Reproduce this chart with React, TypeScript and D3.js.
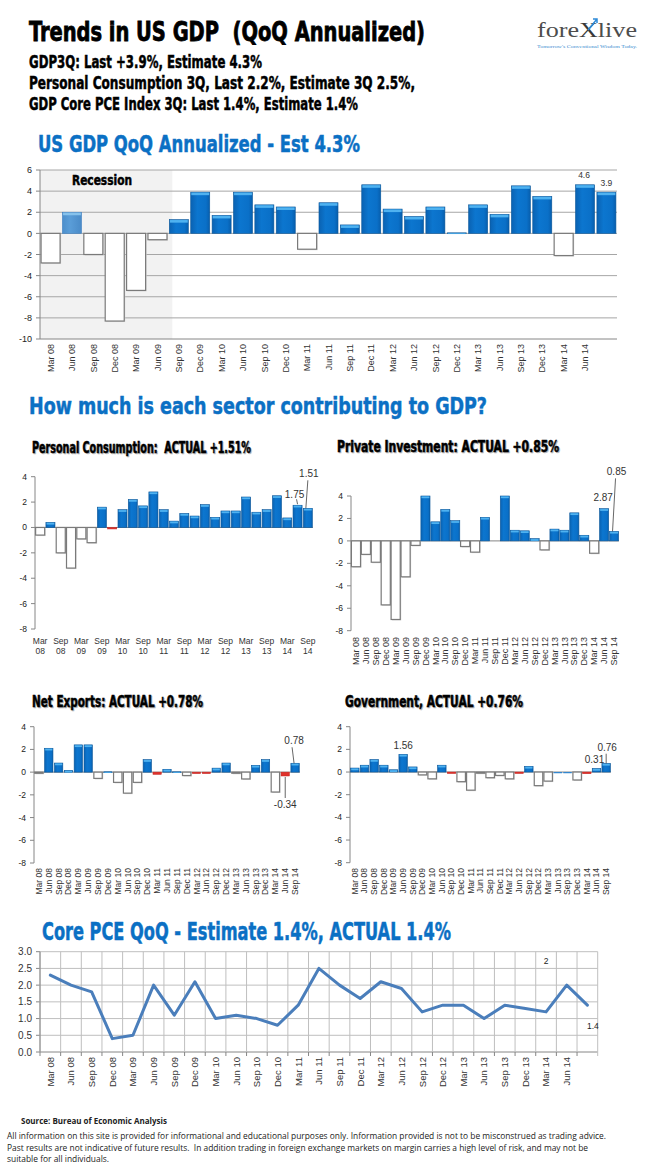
import React from "react";
import * as d3 from "d3";

// ---------------- DATA ----------------
const quarters = [
  "Mar 08", "Jun 08", "Sep 08", "Dec 08", "Mar 09", "Jun 09", "Sep 09", "Dec 09",
  "Mar 10", "Jun 10", "Sep 10", "Dec 10", "Mar 11", "Jun 11", "Sep 11", "Dec 11",
  "Mar 12", "Jun 12", "Sep 12", "Dec 12", "Mar 13", "Jun 13", "Sep 13", "Dec 13",
  "Mar 14", "Jun 14", "Sep 14",
];

const gdpValues = [
  -2.8, 2.0, -2.0, -8.3, -5.4, -0.6, 1.3, 3.9, 1.7, 3.9, 2.7, 2.5, -1.5, 2.9,
  0.8, 4.6, 2.3, 1.6, 2.5, 0.05, 2.7, 1.8, 4.5, 3.5, -2.1, 4.6, 3.9,
];
const gdpRecession = ["Mar 08", "Jun 08", "Sep 08", "Dec 08", "Mar 09", "Jun 09"];
const gdpTicks = [-10, -8, -6, -4, -2, 0, 2, 4, 6];
const gdpTickLabels = quarters.slice(0, 26);

const sectorTicks = [-8, -6, -4, -2, 0, 2, 4];

const pcValues = [
  -0.6, 0.4, -2.0, -3.2, -0.9, -1.2, 1.6, -0.1, 1.4, 2.2, 1.7, 2.8, 1.4, 0.5,
  1.1, 0.9, 1.8, 0.8, 1.3, 1.3, 2.4, 1.2, 1.4, 2.5, 0.75, 1.75, 1.51,
];
const pcReds = ["Dec 09"];
const pcTickLabels = [
  "Mar 08", "Sep 08", "Mar 09", "Sep 09", "Mar 10", "Sep 10", "Mar 11",
  "Sep 11", "Mar 12", "Sep 12", "Mar 13", "Sep 13", "Mar 14", "Sep 14",
];

const piValues = [
  -2.3, -1.2, -1.9, -5.7, -7.0, -3.2, -0.4, 4.0, 1.7, 2.8, 1.8, -0.5, -1.0, 2.1,
  0, 4.0, 0.95, 0.9, 0.2, -0.8, 1.05, 0.95, 2.5, 0.5, -1.1, 2.87, 0.85,
];

const neValues = [
  -0.1, 2.1, 0.8, 0.15, 2.4, 2.4, -0.55, 0.03, -0.9, -1.85, -0.9, 1.1, -0.2, 0.25,
  0.03, -0.3, -0.05, -0.05, 0.35, 0.8, -0.1, -0.6, 0.6, 1.1, -1.75, -0.34, 0.78,
];
const neReds = ["Mar 11", "Mar 12", "Jun 12", "Jun 14"];

const govValues = [
  0.35, 0.6, 1.1, 0.6, 0.2, 1.56, 0.45, -0.25, -0.6, 0.6, -0.05, -0.85, -1.6, -0.1,
  -0.5, -0.3, -0.6, -0.05, 0.5, -1.2, -0.8, -0.05, -0.05, -0.7, -0.15, 0.31, 0.76,
];
const govReds = ["Sep 10", "Jun 12", "Mar 14"];
const govBlueNeg = ["Jun 13", "Sep 13"];

const pceValues = [
  2.3, 2.0, 1.8, 0.4, 0.5, 2.0, 1.1, 2.1, 1.0, 1.1, 1.0, 0.8, 1.4, 2.5, 2.0, 1.6,
  2.1, 1.9, 1.2, 1.4, 1.4, 1.0, 1.4, 1.3, 1.2, 2.0, 1.4,
];
const pceTicks = [0, 0.5, 1.0, 1.5, 2.0, 2.5, 3.0];
const pceTickLabels = quarters.slice(0, 26);

const headerTitle = "Trends in US GDP  (QoQ Annualized)";
const headerLines = [
  "GDP3Q: Last +3.9%, Estimate 4.3%",
  "Personal Consumption 3Q, Last 2.2%, Estimate 3Q 2.5%,",
  "GDP Core PCE Index 3Q: Last 1.4%, Estimate 1.4%",
];
const disclaimer = [
  "All information on this site is provided for informational and educational purposes only. Information provided is not to be misconstrued as trading advice.",
  "Past results are not indicative of future results.  In addition trading in foreign exchange markets on margin carries a high level of risk, and may not be",
  "suitable for all individuals.",
];

// ---------------- STYLE ----------------
const HEAVY = "'DejaVu Sans Condensed', 'DejaVu Sans', 'Liberation Sans', sans-serif";
const ARIAL = "'Liberation Sans', Arial, sans-serif";
const BLUE_TITLE = "#0B70C4";
const AXIS = "#868686";

type Ann = {
  cat: string;
  text: string;
  dx: number;
  dy: number;
  at?: number;
  leader?: [number, number, number, number];
};

function Heavy(props: {
  x: number; y: number; w: number; size: number; text: string; fill?: string; shadow?: boolean; sw?: number;
}) {
  const { x, y, w, size, text, fill = "#000", shadow, sw = 0.5 } = props;
  const common = {
    fontFamily: HEAVY,
    fontWeight: 700 as any,
    fontSize: size,
    textLength: w,
    lengthAdjust: "spacingAndGlyphs",
    style: { whiteSpace: "pre" as any },
  };
  return (
    <g>
      {shadow && (
        <text x={x + 1} y={y + 1} {...common} fill="#9a9a9a" stroke="#9a9a9a" strokeWidth={sw} opacity={0.7}>
          {text}
        </text>
      )}
      <text x={x} y={y} {...common} fill={fill} stroke={fill} strokeWidth={sw}>
        {text}
      </text>
    </g>
  );
}

function Bar(props: { x: number; w: number; y0: number; y1: number; kind: string; cap: number }) {
  const { x, w, y0, y1, kind, cap } = props;
  const top = Math.min(y0, y1);
  const h = Math.max(Math.abs(y1 - y0), 0.8);
  if (kind === "neg") {
    return (
      <g>
        <rect x={x + 1} y={top + 1} width={w} height={h} fill="#d6d6d6" />
        <rect x={x} y={top} width={w} height={h} fill="#fff" stroke="#7a7a7a" strokeWidth={1.2} />
      </g>
    );
  }
  if (kind === "red") {
    return <rect x={x} y={top} width={w} height={Math.max(h, 1.5)} fill="#E0322B" stroke="#C22420" strokeWidth={0.5} />;
  }
  if (kind === "blueNeg") {
    return <rect x={x} y={top} width={w} height={Math.max(h, 1.2)} fill="#2F86D0" />;
  }
  const fill = kind === "light" ? "url(#gLight)" : "url(#gBlue)";
  return (
    <g>
      <rect x={x} y={top} width={w} height={h} fill={fill} stroke={kind === "light" ? "#3D7FC0" : "#0B5799"} strokeWidth={0.6} />
      <rect x={x + 0.6} y={top + 0.4} width={w - 1.2} height={Math.min(cap, h)} fill={kind === "light" ? "#86C2EC" : "#4FB2F0"} />
    </g>
  );
}

// ---------------- GDP CHART ----------------
function GdpChart() {
  const left = 40, right = 617;
  const x = d3.scaleBand<string>().domain(quarters).range([left, right]).paddingInner(0.11).paddingOuter(0.05);
  const y = d3.scaleLinear().domain([-10, 6]).range([339, 170]);
  const bw = x.bandwidth();
  const shadeEnd = (x("Sep 09") as number) + 3;
  const anns: Ann[] = [
    { cat: "Jun 14", text: "4.6", dx: -1, dy: -6.5 },
    { cat: "Sep 14", text: "3.9", dx: 0, dy: -6 },
  ];
  return (
    <g>
      <rect x={left} y={y(6)} width={shadeEnd - left} height={y(-10) - y(6)} fill="#F2F2F2" />
      {gdpTicks.map((t) => (
        <g key={t}>
          <line x1={left} x2={right} y1={y(t)} y2={y(t)} stroke={t === -10 ? AXIS : "#A6A6A6"} strokeWidth={1} />
          <line x1={left - 4} x2={left} y1={y(t)} y2={y(t)} stroke={AXIS} />
          <text x={left - 8} y={y(t)} dy="0.35em" textAnchor="end" fontFamily={ARIAL} fontSize={9} fill="#222">
            {t}
          </text>
        </g>
      ))}
      <line x1={left} x2={left} y1={y(6)} y2={y(-10)} stroke={AXIS} />
      <Heavy x={72} y={185} w={60} size={14} text="Recession" />
      {quarters.map((q, i) => {
        const v = gdpValues[i];
        const kind = v < 0 ? "neg" : gdpRecession.includes(q) ? "light" : "pos";
        return <Bar key={q} x={x(q) as number} w={bw} y0={y(0)} y1={y(v)} kind={kind} cap={2.6} />;
      })}
      {gdpTickLabels.map((q) => {
        const cx = (x(q) as number) + bw / 2 + 3.2;
        return (
          <text key={q} transform={`translate(${cx},344) rotate(-90)`} textAnchor="end" fontFamily={ARIAL} fontSize={9} fill="#333">
            {q}
          </text>
        );
      })}
      {anns.map((a) => {
        const i = quarters.indexOf(a.cat);
        const cx = (x(a.cat) as number) + bw / 2;
        return (
          <text key={a.text} x={cx + a.dx} y={y(gdpValues[i]) + a.dy} textAnchor="middle" fontFamily={ARIAL} fontSize={8.5} fill="#333">
            {a.text}
          </text>
        );
      })}
    </g>
  );
}

// ---------------- SECTOR CHARTS ----------------
function SectorChart(props: {
  title: string; titleX: number; titleY: number; titleW: number;
  values: number[]; reds: string[]; blues?: string[];
  left: number; right: number; yTop: number; yBottom: number; padding: number;
  labels: "pairs" | "rotated"; labelY: number; labelSize: number; anns: Ann[];
}) {
  const p = props;
  const x = d3.scaleBand<string>().domain(quarters).range([p.left, p.right]).paddingInner(p.padding).paddingOuter(p.padding / 2);
  const y = d3.scaleLinear().domain([-8, 4]).range([p.yBottom, p.yTop]);
  const bw = x.bandwidth();
  const blues = p.blues || [];
  return (
    <g>
      <Heavy x={p.titleX} y={p.titleY} w={p.titleW} size={15} text={p.title} shadow />
      <line x1={p.left} x2={p.left} y1={y(4)} y2={y(-8)} stroke={AXIS} />
      {sectorTicks.map((t) => (
        <g key={t}>
          <line x1={p.left - 4} x2={p.left} y1={y(t)} y2={y(t)} stroke={AXIS} />
          <text x={p.left - 8} y={y(t)} dy="0.35em" textAnchor="end" fontFamily={ARIAL} fontSize={8.5} fill="#222">
            {t}
          </text>
        </g>
      ))}
      <line x1={p.left} x2={p.right} y1={y(0)} y2={y(0)} stroke={AXIS} />
      {quarters.map((q, i) => {
        const v = p.values[i];
        if (v === 0) return null;
        const kind = p.reds.includes(q) ? "red" : blues.includes(q) ? "blueNeg" : v < 0 ? "neg" : "pos";
        return <Bar key={q} x={x(q) as number} w={bw} y0={y(0)} y1={y(v)} kind={kind} cap={1.8} />;
      })}
      {p.labels === "pairs"
        ? pcTickLabels.map((q) => {
            const cx = (x(q) as number) + bw / 2;
            const [m, yr] = q.split(" ");
            return (
              <g key={q} fontFamily={ARIAL} fontSize={p.labelSize} fill="#333" textAnchor="middle">
                <text x={cx} y={p.labelY}>{m}</text>
                <text x={cx} y={p.labelY + 10}>{yr}</text>
              </g>
            );
          })
        : quarters.map((q) => {
            const cx = (x(q) as number) + bw / 2 + p.labelSize * 0.35;
            return (
              <text key={q} transform={`translate(${cx},${p.labelY}) rotate(-90)`} textAnchor="end" fontFamily={ARIAL} fontSize={p.labelSize} fill="#333">
                {q}
              </text>
            );
          })}
      {p.anns.map((a) => {
        const i = quarters.indexOf(a.cat);
        const cx = (x(a.cat) as number) + bw / 2;
        const by = y(p.values[i]);
        const tx = cx + a.dx, ty = by + a.dy;
        return (
          <g key={a.text}>
            {a.leader && (
              <line x1={tx + a.leader[0]} y1={ty + a.leader[1]} x2={cx + a.leader[2]} y2={by + a.leader[3]} stroke="#404040" strokeWidth={0.8} />
            )}
            <text x={tx} y={ty} textAnchor="middle" fontFamily={ARIAL} fontSize={10} fill="#333">
              {a.text}
            </text>
          </g>
        );
      })}
    </g>
  );
}

// ---------------- CORE PCE ----------------
function PceChart() {
  const left = 40, right = 597.7, top = 951.7, bottom = 1052;
  const x = d3.scaleBand<string>().domain(quarters).range([left, right]).padding(0);
  const y = d3.scaleLinear().domain([0, 3]).range([bottom, top]);
  const bw = x.bandwidth();
  const cx = (q: string) => (x(q) as number) + bw / 2;
  const line = d3.line<number>().x((_, i) => cx(quarters[i])).y((d) => y(d)).curve(d3.curveLinear);
  const anns: Ann[] = [
    { cat: "Mar 14", text: "2", dx: 0, dy: 0, at: 2.62 },
    { cat: "Sep 14", text: "1.4", dx: 5.5, dy: 24 },
  ];
  return (
    <g>
      {pceTicks.map((t) => (
        <g key={t}>
          <line x1={left} x2={right} y1={y(t)} y2={y(t)} stroke={t === 0 ? AXIS : "#BFBFBF"} />
          <line x1={left - 4} x2={left} y1={y(t)} y2={y(t)} stroke={AXIS} />
          <text x={left - 8} y={y(t)} dy="0.35em" textAnchor="end" fontFamily={ARIAL} fontSize={10} fill="#333">
            {t.toFixed(1)}
          </text>
        </g>
      ))}
      {quarters.map((q) => (
        <g key={q}>
          <line x1={x(q) as number} x2={x(q) as number} y1={top} y2={bottom} stroke="#BFBFBF" />
          <line x1={x(q) as number} x2={x(q) as number} y1={bottom} y2={bottom + 4} stroke={AXIS} />
        </g>
      ))}
      <line x1={right} x2={right} y1={top} y2={bottom + 4} stroke="#BFBFBF" />
      <line x1={left} x2={left} y1={top} y2={bottom} stroke={AXIS} />
      <path d={line(pceValues) as string} fill="none" stroke="#4A7EBB" strokeWidth={3} strokeLinejoin="round" strokeLinecap="round" />
      {pceTickLabels.map((q) => (
        <text key={q} transform={`translate(${cx(q) + 3.4},1057) rotate(-90)`} textAnchor="end" fontFamily={ARIAL} fontSize={9.5} fill="#333">
          {q}
        </text>
      ))}
      {anns.map((a) => {
        const i = quarters.indexOf(a.cat);
        const v = a.at !== undefined ? a.at : pceValues[i];
        return (
          <text key={a.text} x={cx(a.cat) + a.dx} y={y(v) + a.dy} textAnchor="middle" fontFamily={ARIAL} fontSize={8.5} fill="#222">
            {a.text}
          </text>
        );
      })}
    </g>
  );
}

export default function App() {
  return (
    <svg width={650} height={1173} viewBox="0 0 650 1173" style={{ position: "absolute", left: 0, top: 0, display: "block", background: "#fff" }}>
      <defs>
        <linearGradient id="gBlue" x1="0" x2="1" y1="0" y2="0">
          <stop offset="0" stopColor="#0A62B2" />
          <stop offset="0.35" stopColor="#0C76CF" />
          <stop offset="0.8" stopColor="#0A70C8" />
          <stop offset="1" stopColor="#075EAD" />
        </linearGradient>
        <linearGradient id="gLight" x1="0" x2="1" y1="0" y2="0">
          <stop offset="0" stopColor="#4C8FCC" />
          <stop offset="0.4" stopColor="#5A9DD8" />
          <stop offset="1" stopColor="#4A8BC8" />
        </linearGradient>
      </defs>
      <rect x={0} y={0} width={650} height={1173} fill="#fff" />

      {/* Header */}
      <Heavy x={29} y={41} w={396} size={27} text={headerTitle} sw={0.8} />
      <Heavy x={29} y={68} w={233} size={18} text={headerLines[0]} />
      <Heavy x={29} y={89} w={386} size={18} text={headerLines[1]} />
      <Heavy x={29} y={110} w={329} size={18} text={headerLines[2]} />

      {/* Logo */}
      <text x={537} y={37} fontFamily="'Liberation Serif', 'DejaVu Serif', serif" fontSize={22} fill="#4d4d4d" textLength={100} lengthAdjust="spacingAndGlyphs">
        fore<tspan fill="#3a3a3a">X</tspan>live
      </text>
      <path d="M588 30 L597 19 M593 19 L597 19 L597 23" stroke="#2E8BD8" strokeWidth={1.5} fill="none" />
      <text x={537} y={48} fontFamily="'Liberation Serif', serif" fontSize={5} fill="#3C8DD0" textLength={100} lengthAdjust="spacingAndGlyphs">
        Tomorrow's Conventional Wisdom Today.
      </text>

      <Heavy x={38} y={152} w={322} size={23} text="US GDP QoQ Annualized - Est 4.3%" fill={BLUE_TITLE} />
      <GdpChart />

      <Heavy x={29} y={414} w={458} size={23} text="How much is each sector contributing to GDP?" fill={BLUE_TITLE} />

      <SectorChart
        title="Personal Consumption:  ACTUAL +1.51%" titleX={32} titleY={453} titleW={219}
        values={pcValues} reds={pcReds}
        left={35} right={313} yTop={476.7} yBottom={629} padding={0.12}
        labels="pairs" labelY={644} labelSize={8.5}
        anns={[
          { cat: "Jun 14", text: "1.75", dx: -3, dy: -7, leader: [2, 1, 0, -1] },
          { cat: "Sep 14", text: "1.51", dx: 1, dy: -31, leader: [-1, 3, -2, 0] },
        ]}
      />
      <SectorChart
        title="Private Investment: ACTUAL +0.85%" titleX={337} titleY={452} titleW={222}
        values={piValues} reds={[]}
        left={351} right={619} yTop={496} yBottom={630.7} padding={0.08}
        labels="rotated" labelY={637} labelSize={9}
        anns={[
          { cat: "Jun 14", text: "2.87", dx: -1, dy: -8 },
          { cat: "Sep 14", text: "0.85", dx: 2.5, dy: -56, leader: [-1, 3, -1.5, 0] },
        ]}
      />
      <SectorChart
        title="Net Exports: ACTUAL +0.78%" titleX={32} titleY={707} titleW={171}
        values={neValues} reds={neReds}
        left={34} right={300} yTop={726.7} yBottom={863} padding={0.15}
        labels="rotated" labelY={868} labelSize={8.5}
        anns={[
          { cat: "Sep 14", text: "0.78", dx: -1, dy: -19, leader: [-2, 3, -1, 0] },
          { cat: "Jun 14", text: "-0.34", dx: 0, dy: 32, leader: [0, -10, 0, 1] },
        ]}
      />
      <SectorChart
        title="Government, ACTUAL +0.76%" titleX={345} titleY={707} titleW={178}
        values={govValues} reds={govReds} blues={govBlueNeg}
        left={350} right={611} yTop={726.7} yBottom={862.7} padding={0.12}
        labels="rotated" labelY={868} labelSize={8.5}
        anns={[
          { cat: "Jun 09", text: "1.56", dx: 0, dy: -5 },
          { cat: "Jun 14", text: "0.31", dx: -2, dy: -5.5 },
          { cat: "Sep 14", text: "0.76", dx: 1, dy: -12.7, leader: [-1, 3, 0, 0] },
        ]}
      />

      <Heavy x={42} y={940} w={409} size={25} text="Core PCE QoQ - Estimate 1.4%, ACTUAL 1.4%" fill={BLUE_TITLE} />
      <PceChart />

      <text x={21} y={1124} fontFamily="'Open Sans', sans-serif" fontWeight={700} fontSize={8.5} fill="#222" textLength={146} lengthAdjust="spacingAndGlyphs">
        Source: Bureau of Economic Analysis
      </text>
      {disclaimer.map((t, i) => (
        <text key={i} x={7} y={1139 + i * 11.7} fontFamily="'Open Sans', sans-serif" fontSize={8.8} fill="#222" textLength={[599, 581, 102][i]} lengthAdjust="spacingAndGlyphs" style={{ whiteSpace: "pre" }}>
          {t}
        </text>
      ))}
    </svg>
  );
}
